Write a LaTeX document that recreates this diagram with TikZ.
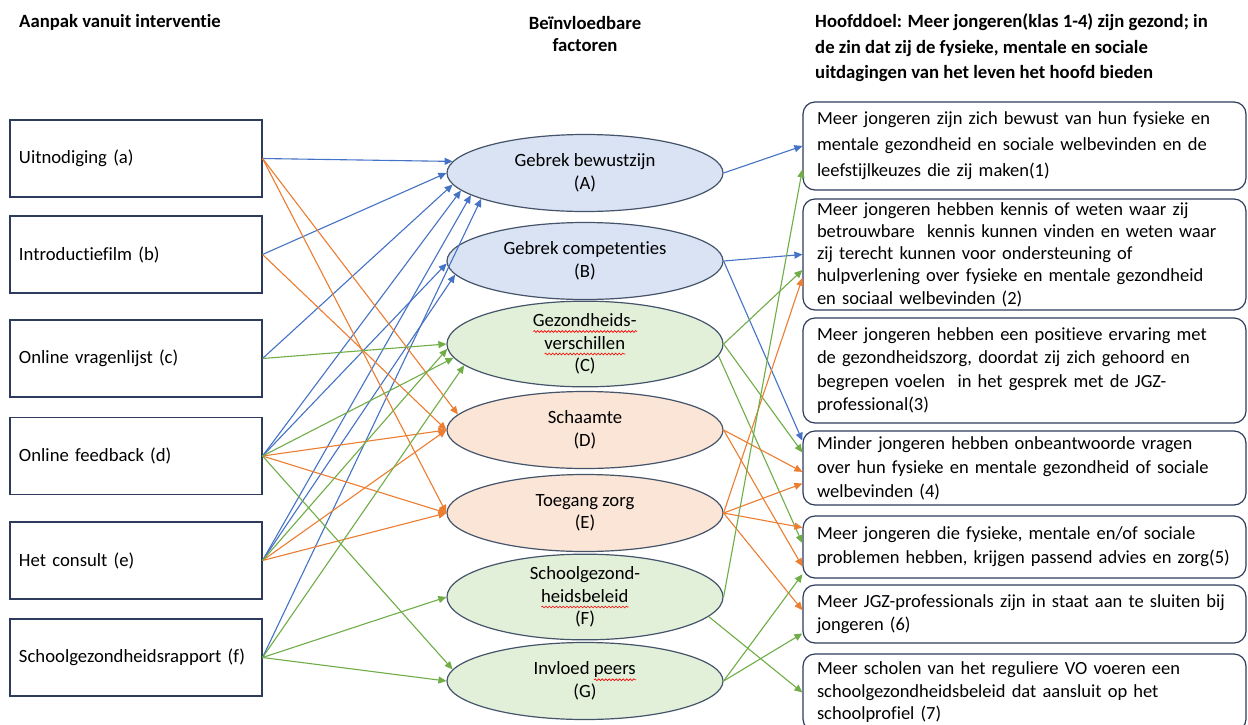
\documentclass[tikz,border=0pt]{standalone}
\usepackage{fontspec}
\setmainfont{Carlito}[Ligatures=NoCommon]
\usetikzlibrary{arrows.meta,shapes.geometric,decorations.pathmorphing}
\definecolor{cblue}{HTML}{4472C4}
\definecolor{corange}{HTML}{ED7D31}
\definecolor{cgreen}{HTML}{70AD47}
\definecolor{fblue}{HTML}{DAE3F3}
\definecolor{fgreen}{HTML}{E2F0D9}
\definecolor{forange}{HTML}{FBE5D6}
\definecolor{edgec}{HTML}{44546A}
\definecolor{navy}{HTML}{2F3B5C}
\newsavebox\wavebox
\newcommand\redwave[1]{\sbox\wavebox{#1}\leavevmode\rlap{\usebox\wavebox}\tikz[baseline=0pt]\draw[draw=red,fill=none,line width=0.6pt,decorate,decoration={snake,amplitude=0.9pt,segment length=3.5pt}] (0pt,-4.8pt) -- (\the\wd\wavebox,-4.8pt);}
\tikzset{
  hdr/.style={font=\fontsize{18.7}{25.5}\selectfont\bfseries, inner sep=0pt},
  lbox/.style={draw=navy, line width=1.1pt, minimum width=252pt, minimum height=77pt, text width=234pt, align=left, inner xsep=9pt, font=\fontsize{18.7}{23}\selectfont},
  ell/.style={ellipse, draw=edgec, line width=1.2pt, minimum width=276pt, minimum height=77pt, inner sep=0pt, align=center, font=\fontsize{18.7}{22.5}\selectfont},
  rbox/.style={draw=navy, line width=1.2pt, rounded corners=12pt, minimum width=443pt, text width=415pt, align=left, inner xsep=14pt, inner ysep=0pt},
  conn/.style={line width=1.1pt, -{Triangle[length=8pt,width=7pt]}},
  bl/.style={conn, draw=cblue},
  og/.style={conn, draw=corange},
  gr/.style={conn, draw=cgreen}
}
\begin{document}
\begin{tikzpicture}[x=1pt,y=-1pt,font=\fontsize{18.5}{23}\selectfont]
\clip (0,0) rectangle (1248,724);
\fill[white] (0,0) rectangle (1248,724);
% headers
\node[hdr, anchor=west] (h1) at (19,22) {Aanpak vanuit interventie};
\node[hdr, align=center, font=\fontsize{18.7}{22}\selectfont\bfseries] (h2) at (585,34) {Beïnvloedbare\\factoren};
\node[hdr, align=left, anchor=west] (h3) at (815,48) {Hoofddoel: Meer jongeren(klas 1-4) zijn gezond; in\\de zin dat zij de fysieke, mentale en sociale\\uitdagingen van het leven het hoofd bieden};
% left boxes
\node[lbox] (a) at (136,158.5) {Uitnodiging (a)};
\node[lbox] (b) at (136,254.5) {Introductiefilm (b)};
\node[lbox] (c) at (136,358.5) {Online vragenlijst (c)};
\node[lbox] (d) at (136,456) {Online feedback (d)};
\node[lbox] (e) at (136,560.5) {Het consult (e)};
\node[lbox] (f) at (136,657.5) {Schoolgezondheidsrapport (f)};
% ellipses
\node[ell, fill=fblue] (A) at (585,173) {Gebrek bewustzijn\\(A)};
\node[ell, fill=fblue] (B) at (585,261) {Gebrek competenties\\(B)};
\node[ell, fill=fgreen] (C) at (585,344) {\redwave{Gezondheids-}\\\redwave{verschillen}\\(C)};
\node[ell, fill=forange] (D) at (585,430) {Schaamte\\(D)};
\node[ell, fill=forange] (E) at (585,513) {Toegang zorg\\(E)};
\node[ell, fill=fgreen] (F) at (585,597) {Schoolgezond-\\\redwave{heidsbeleid}\\(F)};
\node[ell, fill=fgreen] (G) at (585,681) {Invloed \redwave{peers}\\(G)};
% right boxes
\node[rbox, minimum height=88pt, font=\fontsize{18.5}{26}\selectfont] (r1) at (1024.5,146) {Meer jongeren zijn zich bewust van hun fysieke en\\mentale gezondheid en sociale welbevinden en de\\leefstijlkeuzes die zij maken(1)};
\node[rbox, minimum height=111pt, font=\fontsize{18.5}{22.3}\selectfont] (r2) at (1024.5,254.5) {Meer jongeren hebben kennis of weten waar zij\\betrouwbare\ \ kennis kunnen vinden en weten waar\\zij terecht kunnen voor ondersteuning of\\hulpverlening over fysieke en mentale gezondheid\\en sociaal welbevinden (2)};
\node[rbox, minimum height=105pt, font=\fontsize{18.5}{23.3}\selectfont] (r3) at (1024.5,370.5) {Meer jongeren hebben een positieve ervaring met\\de gezondheidszorg, doordat zij zich gehoord en\\begrepen voelen\ \ in het gesprek met de JGZ-\\professional(3)};
\node[rbox, minimum height=74pt, font=\fontsize{18.5}{24}\selectfont] (r4) at (1024.5,468) {Minder jongeren hebben onbeantwoorde vragen\\over hun fysieke en mentale gezondheid of sociale\\welbevinden (4)};
\node[rbox, minimum height=62pt, font=\fontsize{18.5}{24}\selectfont] (r5) at (1024.5,547) {Meer jongeren die fysieke, mentale en/of sociale\\problemen hebben, krijgen passend advies en zorg(5)};
\node[rbox, minimum height=58pt, font=\fontsize{18.5}{23}\selectfont] (r6) at (1024.5,614) {Meer JGZ-professionals zijn in staat aan te sluiten bij\\jongeren (6)};
\node[rbox, minimum height=77pt, font=\fontsize{18.5}{22.5}\selectfont] (r7) at (1024.5,692.5) {Meer scholen van het reguliere VO voeren een\\schoolgezondheidsbeleid dat aansluit op het\\schoolprofiel (7)};
% left -> middle : blue
\draw[bl] (a.east) -- (A.175);
\draw[bl] (b.east) -- (A.180);
\draw[bl] (c.east) -- (A.185);
\draw[bl] (d.east) -- (A.188);
\draw[bl] (d.east) -- (B.181);
\draw[bl] (e.east) -- (A.191);
\draw[bl] (e.east) -- (B.186);
\draw[bl] (f.east) -- (A.194);
% orange
\draw[og] (a.east) -- (D.173);
\draw[og] (a.east) -- (E.180);
\draw[og] (b.east) -- (D.180);
\draw[og] (d.east) -- (D.180);
\draw[og] (d.east) -- (E.180);
\draw[og] (e.east) -- (D.180);
\draw[og] (e.east) -- (E.180);
% green
\draw[gr] (c.east) -- (C.180);
\draw[gr] (d.east) -- (C.186);
\draw[gr] (e.east) -- (C.182);
\draw[gr] (f.east) -- (C.190);
\draw[gr] (d.east) -- (G.175);
\draw[gr] (f.east) -- (F.180);
\draw[gr] (f.east) -- (G.180);
% middle -> right
\draw[bl] (A.east) -- (r1.west);
\draw[bl] (B.east) -- (r2.west);
\draw[bl] (B.east) -- (r4.173);
\draw[gr] (C.east) -- (r2.184);
\draw[gr] (C.east) -- (r4.176);
\draw[gr] (C.-5) -- (r5.179);
\draw[og] (D.east) -- (r4.181);
\draw[og] (D.east) -- (r5.185);
\draw[og] (E.east) -- (r2.186);
\draw[og] (E.east) -- (r4.184);
\draw[og] (E.east) -- (r5.175);
\draw[og] (E.east) -- (r6.179);
\draw[gr] (F.east) -- (r1.186);
\draw[gr] (F.-9) -- (r7.west);
\draw[gr] (G.east) -- (r5.187);
\draw[gr] (G.east) -- (r6.185);
\end{tikzpicture}
\end{document}
